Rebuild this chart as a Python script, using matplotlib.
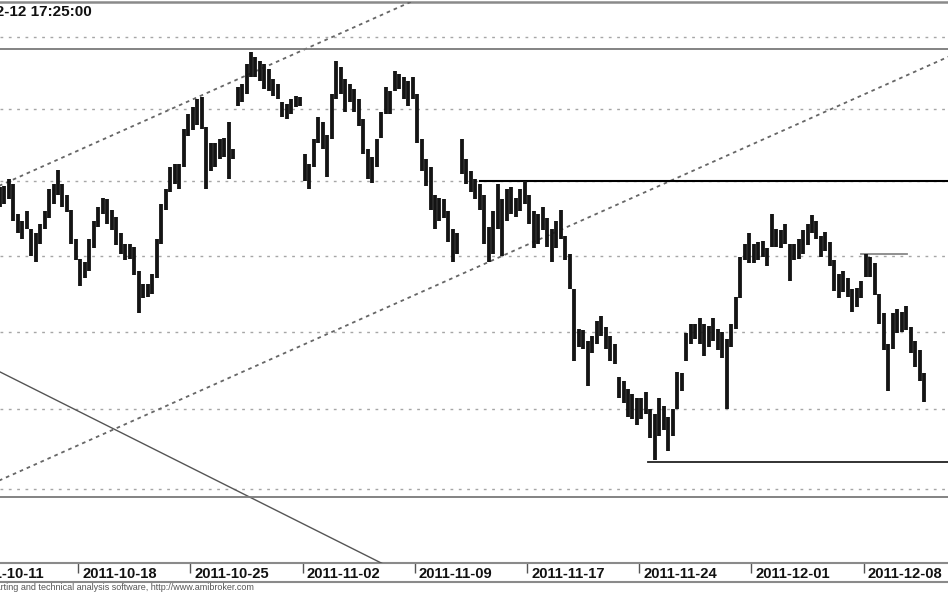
import matplotlib
matplotlib.use("Agg")
import matplotlib.pyplot as plt
import matplotlib.transforms as mtransforms
from matplotlib.lines import Line2D
from matplotlib.ticker import NullLocator, FixedLocator, NullFormatter

# ---------------- data ----------------
trading_days = ["2011-10-11", "2011-10-12", "2011-10-13", "2011-10-14", "2011-10-17",
                "2011-10-18", "2011-10-19", "2011-10-20", "2011-10-21", "2011-10-24",
                "2011-10-25", "2011-10-26", "2011-10-27", "2011-10-28", "2011-10-31",
                "2011-11-02", "2011-11-03", "2011-11-04", "2011-11-07", "2011-11-08",
                "2011-11-09", "2011-11-10", "2011-11-14", "2011-11-15", "2011-11-16",
                "2011-11-17", "2011-11-18", "2011-11-21", "2011-11-22", "2011-11-23",
                "2011-11-24", "2011-11-25", "2011-11-28", "2011-11-29", "2011-11-30",
                "2011-12-01", "2011-12-02", "2011-12-05", "2011-12-06", "2011-12-07",
                "2011-12-08", "2011-12-09", "2011-12-12"]
bars_per_day = [0, 5, 5, 5, 5, 5, 5, 5, 5, 5, 5, 5, 5, 5, 5, 5, 5, 5, 5, 5, 5, 5,
                5, 5, 5, 5, 5, 5, 5, 5, 5, 5, 5, 5, 5, 5, 5, 5, 5, 5, 5, 5, 4]
SLOTS_PER_DAY = 5

bar_high = [
    2341, 2345, 2346, 2347, 2352,   # Oct 12
    2348, 2328, 2323, 2330, 2318,   # Oct 13
    2315, 2321, 2330, 2345, 2348,   # Oct 14
    2358, 2348, 2341, 2331, 2311,   # Oct 17
    2298, 2296, 2311, 2323, 2333,   # Oct 18
    2339, 2338, 2331, 2326, 2315,   # Oct 19
    2308, 2308, 2306, 2290, 2281,   # Oct 20
    2281, 2288, 2311, 2335, 2345,   # Oct 21
    2360, 2362, 2362, 2386, 2396,   # Oct 24
    2401, 2407, 2408, 2387, 2376,   # Oct 25
    2376, 2379, 2380, 2391, 2372,   # Oct 26
    2415, 2417, 2431, 2440, 2436,   # Oct 27
    2433, 2431, 2428, 2421, 2417,   # Oct 28
    2405, 2403, 2407, 2409, 2408,   # Oct 31
    2369, 2362, 2379, 2394, 2391,   # Nov 2
    2382, 2410, 2433, 2429, 2421,   # Nov 3
    2417, 2414, 2407, 2393, 2372,   # Nov 4
    2367, 2379, 2398, 2415, 2412,   # Nov 7
    2426, 2424, 2422, 2419, 2422,   # Nov 8
    2410, 2379, 2365, 2360, 2341,   # Nov 9
    2339, 2338, 2330, 2318, 2315,   # Nov 10
    2379, 2365, 2357, 2352, 2348,   # Nov 14
    2341, 2319, 2330, 2348, 2338,   # Nov 15
    2345, 2346, 2339, 2345, 2350,   # Nov 16
    2341, 2330, 2328, 2333, 2325,   # Nov 17
    2318, 2323, 2331, 2313, 2301,   # Nov 18
    2278, 2252, 2251, 2244, 2247,   # Nov 21
    2257, 2260, 2253, 2247, 2242,   # Nov 22
    2221, 2218, 2213, 2210, 2207,   # Nov 23
    2207, 2211, 2200, 2197, 2207,   # Nov 24
    2202, 2195, 2200, 2224, 2223,   # Nov 25
    2249, 2255, 2255, 2259, 2255,   # Nov 28
    2254, 2259, 2252, 2250, 2245,   # Nov 29
    2255, 2273, 2299, 2308, 2315,   # Nov 30
    2308, 2309, 2310, 2305, 2328,   # Dec 1
    2318, 2317, 2321, 2308, 2308,   # Dec 2
    2311, 2317, 2321, 2327, 2323,   # Dec 5
    2313, 2316, 2309, 2297, 2288,   # Dec 6
    2290, 2285, 2278, 2279, 2283,   # Dec 7
    2301, 2299, 2295, 2275, 2262,   # Dec 8
    2242, 2262, 2265, 2263, 2267,   # Dec 9
    2253, 2244, 2238, 2223,         # Dec 12
]
bar_low = [
    2328, 2331, 2333, 2335, 2338,   # Oct 12
    2323, 2315, 2311, 2318, 2300,   # Oct 13
    2296, 2308, 2318, 2325, 2335,   # Oct 14
    2341, 2333, 2329, 2308, 2297,   # Oct 17
    2280, 2285, 2290, 2305, 2319,   # Oct 18
    2328, 2321, 2317, 2307, 2301,   # Oct 19
    2297, 2298, 2287, 2262, 2272,   # Oct 20
    2273, 2275, 2285, 2308, 2331,   # Oct 21
    2343, 2348, 2345, 2360, 2381,   # Oct 24
    2385, 2389, 2386, 2345, 2357,   # Oct 25
    2360, 2365, 2367, 2352, 2365,   # Oct 26
    2402, 2405, 2410, 2422, 2422,   # Oct 27
    2419, 2414, 2412, 2409, 2407,   # Oct 28
    2394, 2393, 2396, 2401, 2402,   # Oct 31
    2350, 2345, 2360, 2376, 2372,   # Nov 2
    2353, 2379, 2407, 2410, 2398,   # Nov 3
    2405, 2398, 2388, 2369, 2352,   # Nov 4
    2349, 2360, 2380, 2396, 2396,   # Nov 7
    2412, 2414, 2407, 2402, 2407,   # Nov 8
    2376, 2357, 2347, 2331, 2318,   # Nov 9
    2323, 2325, 2309, 2296, 2301,   # Nov 10
    2355, 2348, 2343, 2338, 2331,   # Nov 14
    2308, 2296, 2301, 2318, 2300,   # Nov 15
    2323, 2328, 2326, 2330, 2335,   # Nov 16
    2321, 2305, 2308, 2317, 2306,   # Nov 17
    2296, 2305, 2311, 2297, 2278,   # Nov 18
    2231, 2240, 2239, 2215, 2236,   # Nov 21
    2242, 2247, 2239, 2231, 2229,   # Nov 22
    2207, 2204, 2195, 2194, 2190,   # Nov 23
    2194, 2197, 2182, 2168, 2183,   # Nov 24
    2187, 2174, 2183, 2200, 2212,   # Nov 25
    2231, 2242, 2245, 2242, 2234,   # Nov 28
    2240, 2244, 2238, 2233, 2200,   # Nov 29
    2240, 2252, 2272, 2297, 2295,   # Nov 30
    2295, 2297, 2299, 2293, 2306,   # Dec 1
    2306, 2305, 2308, 2283, 2297,   # Dec 2
    2298, 2301, 2307, 2315, 2311,   # Dec 5
    2299, 2303, 2293, 2277, 2272,   # Dec 6
    2276, 2273, 2263, 2266, 2272,   # Dec 7
    2286, 2286, 2274, 2255, 2238,   # Dec 8
    2212, 2239, 2249, 2250, 2251,   # Dec 9
    2236, 2227, 2218, 2205,         # Dec 12
]

grid_levels = [2150, 2200, 2250, 2300, 2350, 2400, 2450]
label_day_index = [0, 5, 10, 15, 20, 25, 30, 35, 40]

# drawn studies (trading-day index, price)
upper_channel_days = [0, 22]
upper_channel_prices = [2337, 2491]
lower_channel_days = [0, 45]
lower_channel_prices = [2146, 2445]
down_line_days = [0, 19]
down_line_prices = [2235, 2101]
gray_hlines = [2442, 2145]
resistance_level, resistance_from = 2350, 22.9
support_level, support_from = 2167, 30.39
short_level, short_from, short_to = 2301, 39.88, 41.93

x_view = (1.515, 43.76)
y_view = (2104.4, 2475.6)

title_text = "2011-12-12 17:25:00"
footer_text = "AmiBroker - charting and technical analysis software, http://www.amibroker.com"

# ---------------- figure ----------------
W, H = 948, 593
fig = plt.figure(figsize=(W / 100, H / 100), dpi=100)
fig.patch.set_facecolor("white")
ax = fig.add_axes([0, 1 - 563 / H, 1, (563 - 1.5) / H])
ax.set_facecolor("white")

ax.set_yscale("log")
ax.set_xlim(*x_view)
ax.set_ylim(*y_view)

# grid
ax.yaxis.set_major_locator(FixedLocator(grid_levels))
ax.yaxis.set_minor_locator(NullLocator())
ax.yaxis.set_major_formatter(NullFormatter())
ax.yaxis.set_minor_formatter(NullFormatter())
ax.tick_params(axis="y", length=0)
ax.yaxis.grid(True, color="#a6a6a6", linestyle=(0, (2, 4)), linewidth=1.0)
ax.set_axisbelow(True)

# x ticks at week starts
ax.xaxis.set_major_locator(FixedLocator(label_day_index[1:]))
ax.xaxis.set_major_formatter(NullFormatter())
ax.tick_params(axis="x", direction="out", length=7, width=1, color="#555555")

for side in ("left", "right"):
    ax.spines[side].set_visible(False)
ax.spines["top"].set_color("#8a8a8a")
ax.spines["top"].set_linewidth(1.8)
ax.spines["bottom"].set_color("#8a8a8a")
ax.spines["bottom"].set_linewidth(1.5)

# price bars
xs = []
for d, n in enumerate(bars_per_day):
    for j in range(n):
        xs.append(d + (j + 0.5) / SLOTS_PER_DAY)
ax.vlines(xs, bar_low, bar_high, colors="#141414", linewidth=2.75, zorder=5)

# studies
ax.plot(upper_channel_days, upper_channel_prices, color="#666666",
        linestyle=(0, (2, 2.2)), linewidth=1.3, zorder=3)
ax.plot(lower_channel_days, lower_channel_prices, color="#666666",
        linestyle=(0, (2, 2.2)), linewidth=1.3, zorder=3)
ax.plot(down_line_days, down_line_prices, color="#555555", linewidth=1.0, zorder=3)
for lvl in gray_hlines:
    ax.axhline(lvl, color="#7a7a7a", linewidth=1.3, zorder=3)
ax.plot([resistance_from, x_view[1] + 2], [resistance_level] * 2,
        color="black", linewidth=1.5, zorder=4)
ax.plot([support_from, x_view[1] + 2], [support_level] * 2,
        color="#222222", linewidth=1.3, zorder=4)
ax.plot([short_from, short_to], [short_level] * 2,
        color="#888888", linewidth=1.3, zorder=4)

# date labels
trans = mtransforms.blended_transform_factory(ax.transData, fig.transFigure)
trans = trans + mtransforms.ScaledTranslation(4 / 100, 0, fig.dpi_scale_trans)
for d in label_day_index:
    fig.text(d, 1 - 578 / H, trading_days[d], transform=trans, ha="left",
             va="baseline", fontsize=10.6, fontweight="bold",
             family="Liberation Sans", color="#111111")

# bottom strip line
fig.add_artist(Line2D([0, 1], [1 - 582 / H] * 2, transform=fig.transFigure,
                      color="#8a8a8a", linewidth=1.5))

# title and footer (cut at the left edge, as in the source picture)
fig.text(92 / W, 1 - 16 / H, title_text, ha="right", va="baseline",
         fontsize=11, fontweight="bold", family="Liberation Sans", color="#111111")
fig.text(254 / W, 1 - 590 / H, footer_text, ha="right", va="baseline",
         fontsize=6.5, family="Liberation Sans", color="#555555")

fig.savefig("out.png", dpi=100)
